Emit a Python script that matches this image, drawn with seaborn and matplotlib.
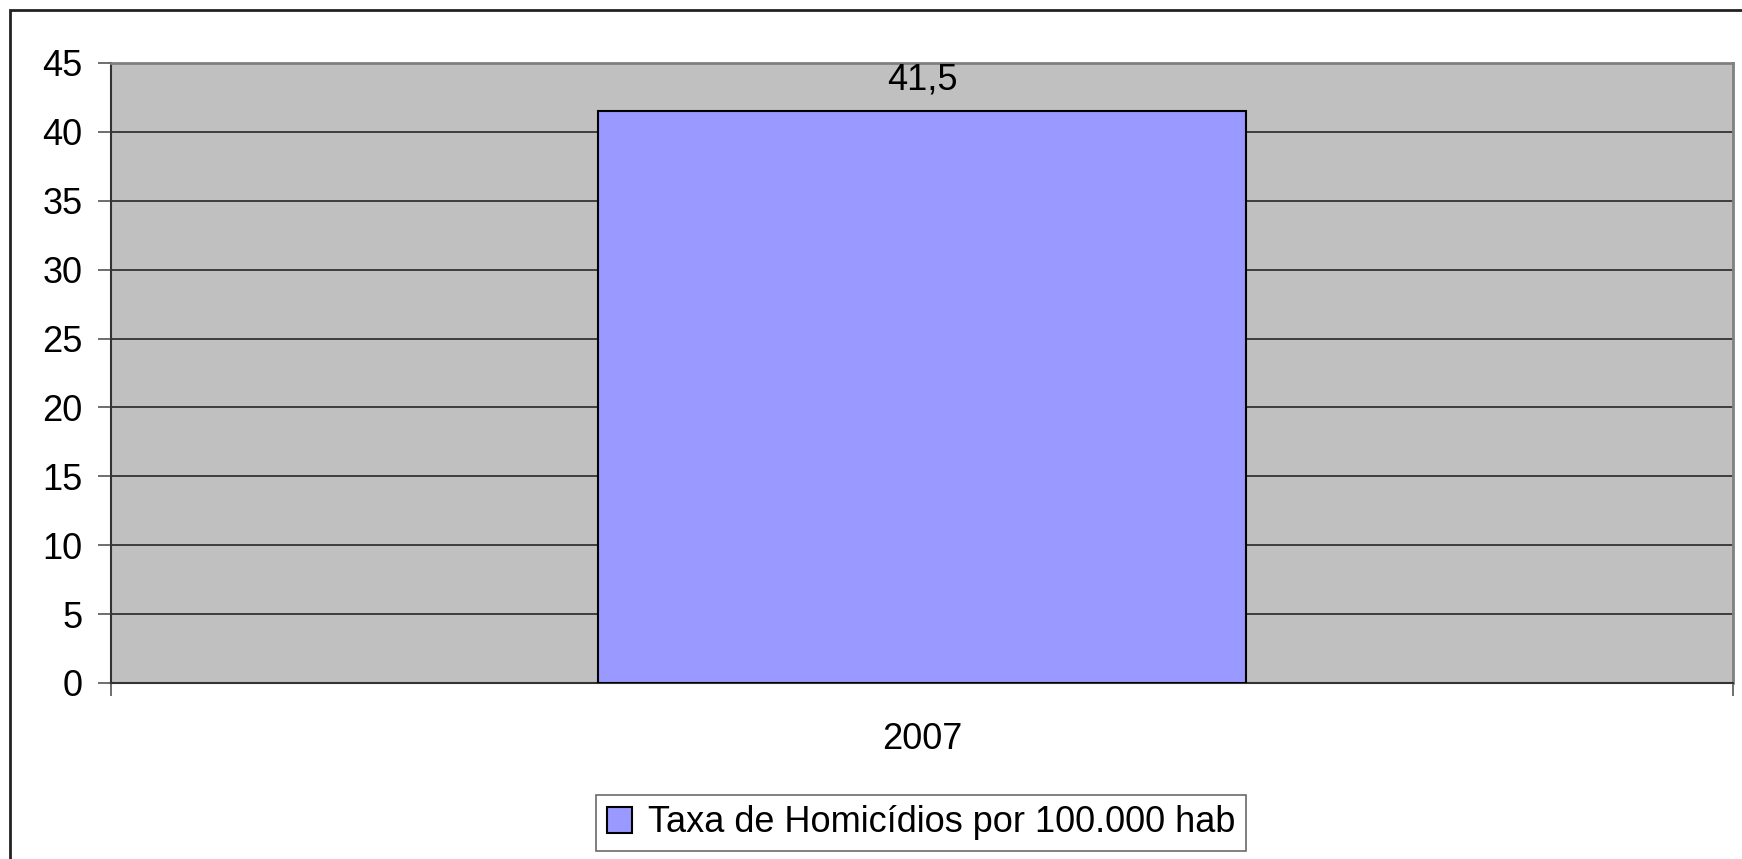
import matplotlib
matplotlib.use("Agg")
import matplotlib.pyplot as plt
import seaborn as sns
from matplotlib.patches import Rectangle

years = ["2007"]
rates = [41.5]
rate_labels = ["41,5"]
series_name = "Taxa de Homicídios por 100.000 hab"
y_ticks = [0, 5, 10, 15, 20, 25, 30, 35, 40, 45]

sns.set_style("white")
plt.rcParams["font.family"] = ["Liberation Sans", "DejaVu Sans"]
plt.rcParams["text.color"] = "black"
plt.rcParams["xtick.color"] = "black"
plt.rcParams["ytick.color"] = "black"

fig = plt.figure(figsize=(17.42, 8.59), dpi=100)
ax = fig.add_axes([111 / 1742, 1 - 683 / 859, 1622 / 1742, 620 / 859])

# outer chart border (runs off the right and bottom edges)
fig.patches.append(Rectangle((10 / 1742, -0.1), 1.1, 1 - 10 / 859 + 0.1,
                             transform=fig.transFigure, fill=False,
                             edgecolor="#222222", linewidth=2, zorder=0))

ax.set_facecolor("#C0C0C0")
sns.barplot(x=years, y=rates, color="#9999FF", width=0.4, edgecolor="black",
            linewidth=1.5, saturation=1, label=series_name, ax=ax, zorder=3)

ax.set_ylim(0, 45)
ax.set_xlim(-0.5, 0.5)
ax.set_yticks(y_ticks)
ax.yaxis.grid(True, color="#333333", linewidth=1.3)
ax.set_axisbelow(True)
ax.tick_params(axis="y", direction="out", length=9.5, width=1.2, color="#555555",
               labelsize=26, pad=11, left=True)
ax.tick_params(axis="x", which="major", length=0, labelsize=26, pad=28)
ax.set_xticks([-0.5, 0.5], minor=True)
ax.tick_params(axis="x", which="minor", direction="out", length=9, width=1.2,
               color="#555555", bottom=True)

for side in ["left", "bottom"]:
    ax.spines[side].set_color("#333333")
    ax.spines[side].set_linewidth(1.5)
for side in ["top", "right"]:
    ax.spines[side].set_color("#808080")
    ax.spines[side].set_linewidth(2)

ax.bar_label(ax.containers[0], labels=rate_labels, padding=10, fontsize=26)
ax.set_xlabel("")
ax.set_ylabel("")

leg = ax.legend(loc="center", bbox_to_anchor=(921 / 1742, 1 - 823 / 859),
                bbox_transform=fig.transFigure, fontsize=26, frameon=True,
                fancybox=False, edgecolor="#444444", handlelength=0.7,
                handleheight=0.7, handletextpad=0.45, borderpad=0.3,
                borderaxespad=0)
leg.get_frame().set_linewidth(1.2)

fig.savefig("out.png", dpi=100)
